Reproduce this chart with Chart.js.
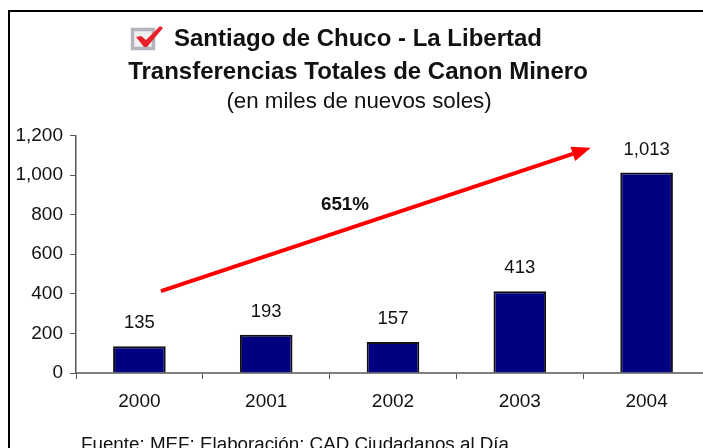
<!DOCTYPE html>
<html><head><meta charset="utf-8">
<style>
html,body{margin:0;padding:0;width:703px;height:448px;overflow:hidden;background:#fff}
#wrap{position:relative;width:703px;height:448px;overflow:hidden}
#frame{position:absolute;left:8px;top:10px;width:720px;height:460px;border-left:2.5px solid #000;border-top:2.5px solid #000;box-sizing:border-box;z-index:2;pointer-events:none}
canvas{position:absolute;left:0;top:0}
</style>
<script src="https://cdn.jsdelivr.net/npm/chart.js@4"></script>
</head><body>
<div id="wrap"><div id="frame"></div><canvas id="c" width="760" height="448" style="width:760px;height:448px"></canvas></div>
<script>
const categories = ['2000','2001','2002','2003','2004'];
const values = [135,193,157,413,1013];
const valueLabels = ['135','193','157','413','1,013'];
const yMax = 1200, yStep = 200;
const titleLine1 = 'Santiago de Chuco - La Libertad';
const titleLine2 = 'Transferencias Totales de Canon Minero';
const titleLine3 = '(en miles de nuevos soles)';
const arrowLabel = '651%';
const sourceNote = 'Fuente: MEF; Elaboración: CAD Ciudadanos al Día';
const arrowStart = [0.17, 414];
const arrowEnd = [3.56, 1138];
const FONT = '"Liberation Sans", Arial, sans-serif';

const overlay = {
  id:'overlay',
  afterDraw(chart){
    const c = chart.ctx, x = chart.scales.x, y = chart.scales.y;
    c.save();
    c.fillStyle = '#111';
    c.textBaseline = 'alphabetic';
    // titles
    c.textAlign = 'left';
    c.font = 'bold 24px '+FONT;
    c.fillText(titleLine1, 174, 46);
    c.textAlign = 'center';
    c.fillText(titleLine2, 358, 79);
    c.font = '22.3px '+FONT;
    c.fillText(titleLine3, 359, 108);
    // checkbox icon
    c.fillStyle = '#f0f0f0'; c.fillRect(131,28,24,22);
    c.strokeStyle = '#b4b4bc'; c.lineWidth = 3.5; c.strokeRect(132.5,29.5,21,19);
    c.fillStyle = '#e8202a';
    c.beginPath(); c.moveTo(136,37); c.lineTo(141,36); c.lineTo(146,40); c.lineTo(160,26); c.lineTo(163,28); c.lineTo(147,47); c.lineTo(144,47); c.closePath(); c.fill();
    // value labels
    c.fillStyle = '#111';
    c.font = '18.5px '+FONT;
    values.forEach((v,i)=>{
      c.fillText(valueLabels[i], x.getPixelForValue(i), y.getPixelForValue(v)-18);
    });
    // arrow
    const x0=x.getPixelForValue(arrowStart[0]), y0=y.getPixelForValue(arrowStart[1]);
    const x1=x.getPixelForValue(arrowEnd[0]), y1=y.getPixelForValue(arrowEnd[1]);
    const a=Math.atan2(y1-y0,x1-x0), len=19, hw=7.5;
    const bx=x1-len*Math.cos(a), by=y1-len*Math.sin(a);
    c.strokeStyle='#ff0000'; c.lineWidth=4;
    c.beginPath(); c.moveTo(x0,y0); c.lineTo(bx,by); c.stroke();
    c.fillStyle='#ff0000';
    c.beginPath(); c.moveTo(x1,y1);
    c.lineTo(bx+hw*Math.sin(a),by-hw*Math.cos(a));
    c.lineTo(bx-hw*Math.sin(a),by+hw*Math.cos(a));
    c.closePath(); c.fill();
    // arrow label
    c.fillStyle='#111';
    c.font='bold 18.8px '+FONT;
    c.fillText(arrowLabel, 345, 210);
    // source
    c.textAlign='left';
    c.font='18.8px '+FONT;
    c.fillText(sourceNote, 81, 450);
    c.restore();
  }
};

new Chart(document.getElementById('c'),{
  type:'bar',
  data:{labels:categories,datasets:[{data:values,backgroundColor:'#000080',borderColor:'#111',borderWidth:2,categoryPercentage:1,barPercentage:0.415}]},
  plugins:[overlay],
  options:{
    responsive:false,animation:false,
    layout:{padding:{top:135.5,right:50,left:0,bottom:0}},
    plugins:{legend:{display:false},tooltip:{enabled:false},title:{display:false}},
    scales:{
      x:{
        grid:{offset:true,drawOnChartArea:false,drawTicks:true,tickLength:6,color:'#555',tickWidth:1},
        border:{color:'#808080',width:2},
        ticks:{color:'#111',font:{family:FONT,size:19},padding:11,maxRotation:0},
        afterFit(s){s.height=75;}
      },
      y:{
        min:0,max:yMax,
        grid:{drawOnChartArea:false,drawTicks:true,tickLength:6,color:'#555'},
        border:{color:'#555',width:1.5},
        ticks:{stepSize:yStep,color:'#111',font:{family:FONT,size:19},padding:7,
          callback:v=>v.toLocaleString('en-US')},
        afterFit(s){s.width=76;}
      }
    }
  }
});
</script>
</body></html>
